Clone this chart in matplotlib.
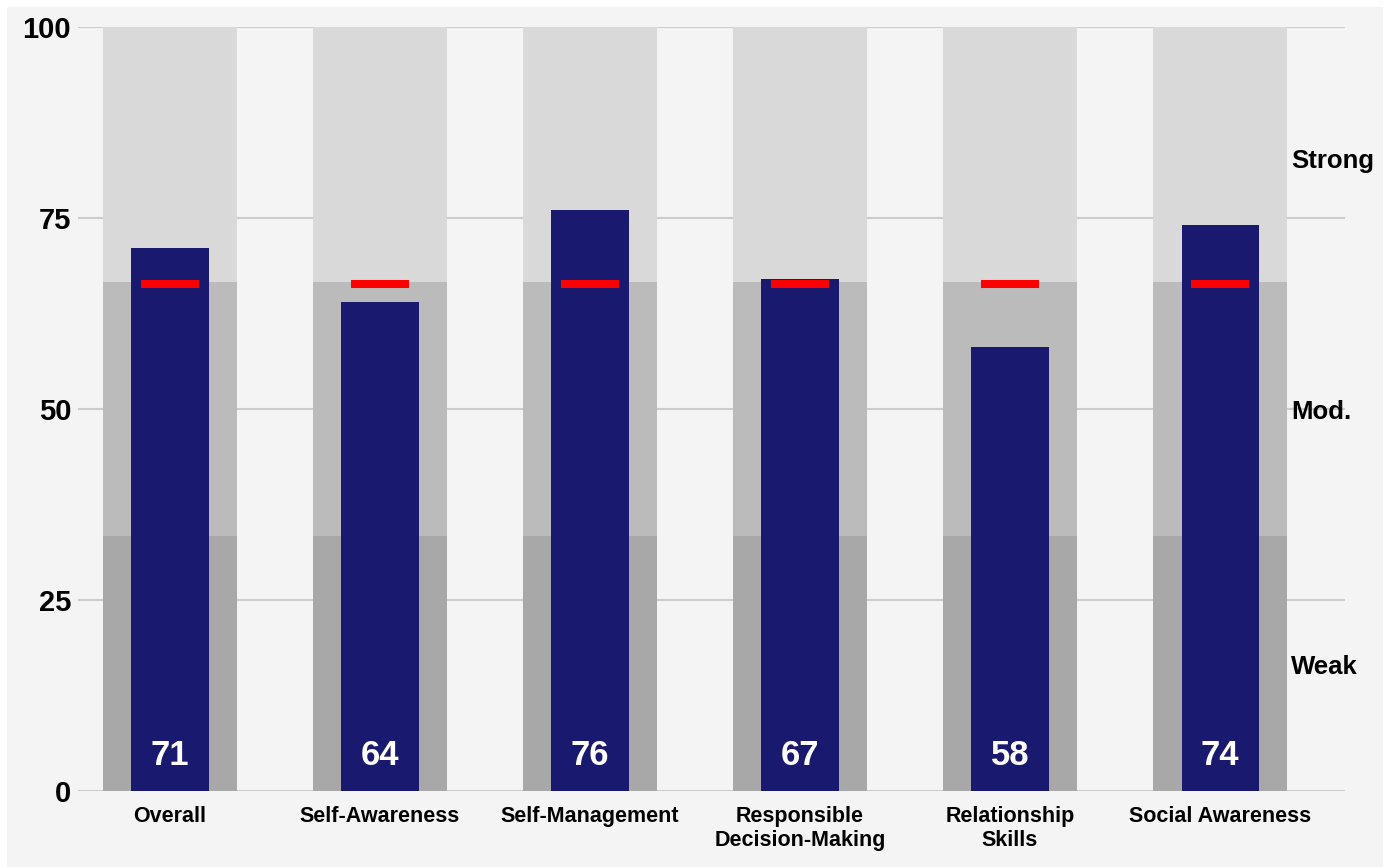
import numpy as np
import matplotlib.pyplot as plt
from matplotlib.patches import Rectangle

plt.rcParams['font.family'] = ['Liberation Sans', 'DejaVu Sans']
plt.rcParams['font.weight'] = 'bold'

# data
categories = ['Overall', 'Self-Awareness', 'Self-Management',
              'Responsible\nDecision-Making', 'Relationship\nSkills', 'Social Awareness']
scores = [71.1, 64.0, 76.1, 67.0, 58.1, 74.1]
target = 66.3
band_edges = [0, 33.33, 66.67, 100]
band_colors = ['#a8a8a8', '#bbbbbb', '#d9d9d9']
band_names = ['Weak', 'Mod.', 'Strong']
band_label_y = [16.5, 49.9, 82.8]

fig = plt.figure(figsize=(13.89, 8.67), dpi=100, facecolor='white')
fig.patches.append(Rectangle((7/1389, 0), 1376/1389, 860/867, transform=fig.transFigure,
                             facecolor='#f4f4f4', edgecolor='none', zorder=-10))
ax = fig.add_axes([78/1389, 76/867, (1345-78)/1389, (791-27)/867])
ax.set_facecolor('none')

x = np.arange(len(categories))
for lo, hi, c in zip(band_edges[:-1], band_edges[1:], band_colors):
    ax.bar(x, hi - lo, bottom=lo, width=0.638, color=c, zorder=2)
ax.bar(x, scores, width=0.367, color='#191970', zorder=3)
ax.hlines([target] * len(x), x - 0.138, x + 0.138, color='#ff0000', lw=5.8, zorder=4)

for xi, s in zip(x, scores):
    ax.text(xi, 4.7, f'{s:.0f}', ha='center', va='center', color='white',
            fontsize=25, fontweight='bold', zorder=5)

for yl, name in zip(band_label_y, band_names):
    ax.text(5.34, yl, name, ha='left', va='center_baseline', fontsize=18.5,
            fontweight='bold', zorder=5)

ax.set_xlim(-0.438, 5.595)
ax.set_ylim(0, 100)
ax.set_yticks([0, 25, 50, 75, 100])
ax.set_xticks(x)
ax.set_xticklabels(categories, fontsize=15.5, fontweight='bold', linespacing=1.15)
ax.tick_params(axis='y', labelsize=21, length=0, pad=5)
ax.tick_params(axis='x', length=0, pad=11)
ax.grid(axis='y', color='#cccccc', lw=1.5, zorder=1)
for sp in ax.spines.values():
    sp.set_visible(False)
ax.set_axisbelow(True)

fig.savefig('out.png', dpi=100)
